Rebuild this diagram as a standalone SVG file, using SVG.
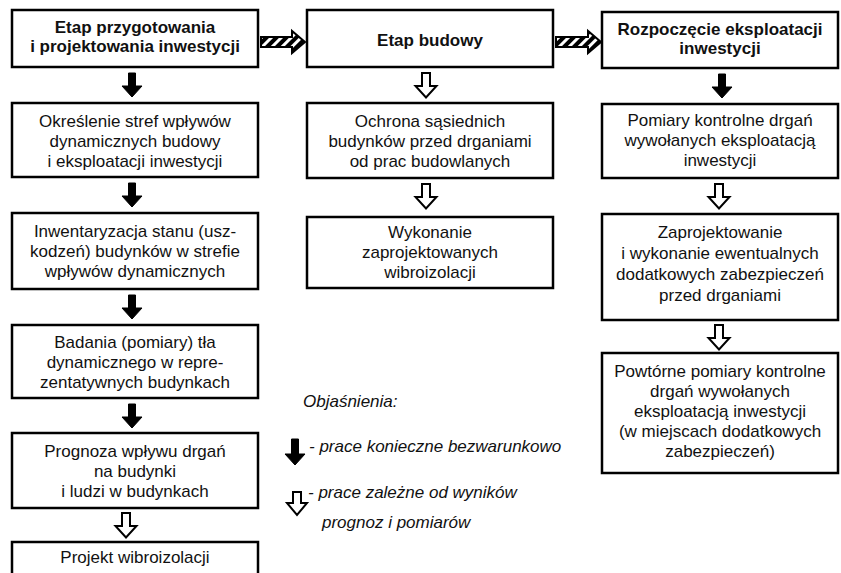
<svg xmlns="http://www.w3.org/2000/svg" width="841" height="573" viewBox="0 0 841 573">
<style>
.box{fill:#fff;stroke:#000;stroke-width:2.5}
.t{font-family:"Liberation Sans",Arial,sans-serif;font-size:17px;text-anchor:middle;fill:#111}
.b{font-weight:bold}
.leg{font-family:"Liberation Sans",Arial,sans-serif;font-size:17px;font-style:italic;fill:#111}
.solid{fill:#000;stroke:#000;stroke-width:1}
.hollow{fill:#fff;stroke:#000;stroke-width:2;stroke-linejoin:miter}
.hatch{fill:url(#hatch);stroke:#000;stroke-width:2}
</style>
<defs>
<pattern id="hatch" width="7" height="7" patternUnits="userSpaceOnUse" patternTransform="rotate(45)">
<rect width="7" height="7" fill="#000"/>
<rect x="0" y="0" width="3" height="7" fill="#fff"/>
</pattern>
<path id="sa" class="solid" d="M-3.5,0 H3.5 V13 H10 L0,24 L-10,13 H-3.5 Z"/>
<path id="ha" class="hollow" d="M-4,0 H4 V13 H10.5 L0,24.5 L-10.5,13 H-4 Z"/>
</defs>
<rect width="841" height="573" fill="#fff"/>

<g id="A1"><rect class="box" x="12" y="10" width="246" height="57"/>
<text class="t b"><tspan x="135" y="33">Etap przygotowania</tspan><tspan x="135" y="52">i projektowania inwestycji</tspan></text></g>
<g id="A2"><rect class="box" x="12" y="103" width="246" height="74"/>
<text class="t"><tspan x="135" y="127">Określenie stref wpływów</tspan><tspan x="135" y="147">dynamicznych budowy</tspan><tspan x="135" y="167">i eksploatacji inwestycji</tspan></text></g>
<g id="A3"><rect class="box" x="12" y="213" width="246" height="76"/>
<text class="t"><tspan x="135" y="237">Inwentaryzacja stanu (usz-</tspan><tspan x="135" y="257">kodzeń) budynków w strefie</tspan><tspan x="135" y="277">wpływów dynamicznych</tspan></text></g>
<g id="A4"><rect class="box" x="12" y="325" width="246" height="73"/>
<text class="t"><tspan x="135" y="348">Badania (pomiary) tła</tspan><tspan x="135" y="368">dynamicznego w repre-</tspan><tspan x="135" y="388">zentatywnych budynkach</tspan></text></g>
<g id="A5"><rect class="box" x="12" y="433" width="246" height="75"/>
<text class="t"><tspan x="135" y="457">Prognoza wpływu drgań</tspan><tspan x="135" y="477">na budynki</tspan><tspan x="135" y="497">i ludzi w budynkach</tspan></text></g>
<g id="A6"><rect class="box" x="12" y="542" width="246" height="45"/>
<text class="t"><tspan x="135" y="563">Projekt wibroizolacji</tspan></text></g>

<g id="B1"><rect class="box" x="307" y="10" width="246" height="57"/>
<text class="t b"><tspan x="430" y="46">Etap budowy</tspan></text></g>
<g id="B2"><rect class="box" x="307" y="103" width="246" height="75"/>
<text class="t"><tspan x="430" y="127">Ochrona sąsiednich</tspan><tspan x="430" y="147">budynków przed drganiami</tspan><tspan x="430" y="167">od prac budowlanych</tspan></text></g>
<g id="B3"><rect class="box" x="307" y="217" width="246" height="71"/>
<text class="t"><tspan x="430" y="238">Wykonanie</tspan><tspan x="430" y="258">zaprojektowanych</tspan><tspan x="430" y="278">wibroizolacji</tspan></text></g>

<g id="C1"><rect class="box" x="602" y="12" width="236" height="56"/>
<text class="t b"><tspan x="720" y="35">Rozpoczęcie eksploatacji</tspan><tspan x="720" y="54">inwestycji</tspan></text></g>
<g id="C2"><rect class="box" x="602" y="104" width="236" height="74"/>
<text class="t"><tspan x="720" y="126">Pomiary kontrolne drgań</tspan><tspan x="720" y="146">wywołanych eksploatacją</tspan><tspan x="720" y="166">inwestycji</tspan></text></g>
<g id="C3"><rect class="box" x="602" y="214" width="236" height="106"/>
<text class="t"><tspan x="720" y="238">Zaprojektowanie</tspan><tspan x="720" y="259">i wykonanie ewentualnych</tspan><tspan x="720" y="280">dodatkowych zabezpieczeń</tspan><tspan x="720" y="301">przed drganiami</tspan></text></g>
<g id="C4"><rect class="box" x="602" y="353" width="236" height="120"/>
<text class="t"><tspan x="720" y="377">Powtórne pomiary kontrolne</tspan><tspan x="720" y="397">drgań wywołanych</tspan><tspan x="720" y="417">eksploatacją inwestycji</tspan><tspan x="720" y="437">(w miejscach dodatkowych</tspan><tspan x="720" y="457">zabezpieczeń)</tspan></text></g>

<g id="connectors">
<path class="hatch" d="M261,37 H292 V31 L305,42 L292,53 V47 H261 Z"/>
<path class="hatch" d="M556,37 H588 V31 L601,42 L588,53 V47 H556 Z"/>
<use href="#sa" x="132" y="73"/>
<use href="#sa" x="132" y="183"/>
<use href="#sa" x="132" y="295"/>
<use href="#sa" x="132" y="404"/>
<use href="#ha" x="126" y="513"/>
<use href="#ha" x="426" y="73"/>
<use href="#ha" x="426" y="184"/>
<use href="#sa" x="722" y="74"/>
<use href="#ha" x="719" y="184"/>
<use href="#ha" x="719" y="325"/>
</g>

<g id="legend">
<text class="leg" x="303" y="407">Objaśnienia:</text>
<path class="solid" d="M291.5,439 H298.5 V454 H305 L295,465 L285,454 H291.5 Z"/>
<text class="leg" x="309" y="452">- prace konieczne bezwarunkowo</text>
<path class="hollow" d="M293,492 H301 V503 H307 L297,515 L287,503 H293 Z"/>
<text class="leg" x="308" y="498">- prace zależne od wyników</text>
<text class="leg" x="322" y="528">prognoz i pomiarów</text>
</g>
</svg>
